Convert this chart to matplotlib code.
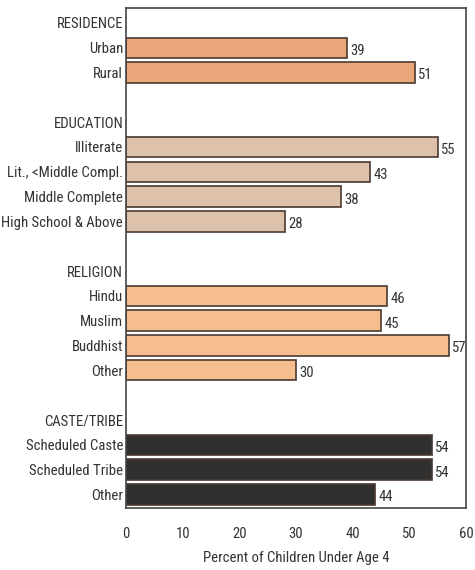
import matplotlib.pyplot as plt
import numpy as np

FONT = ['Roboto Condensed', 'DejaVu Sans']

groups = ['RESIDENCE', 'EDUCATION', 'RELIGION', 'CASTE/TRIBE']
residence = ['Urban', 'Rural']
residence_vals = [39, 51]
education = ['Illiterate', 'Lit., <Middle Compl.', 'Middle Complete', 'High School & Above']
education_vals = [55, 43, 38, 28]
religion = ['Hindu', 'Muslim', 'Buddhist', 'Other']
religion_vals = [46, 45, 57, 30]
caste = ['Scheduled Caste', 'Scheduled Tribe', 'Other']
caste_vals = [54, 54, 44]

COLORS = ['#E9A77A', '#DDC1AA', '#F6BE8E', '#303030']
FS = 10.6


def main():
    fig = plt.figure(figsize=(4.75, 5.70), dpi=100)
    ax = fig.add_axes([126 / 475, 62 / 570, 340 / 475, 500 / 570])

    cats = [residence, education, religion, caste]
    vals = [residence_vals, education_vals, religion_vals, caste_vals]

    labels = []
    pos = 0
    ticks = []
    for gi, (g, c, v) in enumerate(zip(groups, cats, vals)):
        if gi > 0:
            pos += 1  # blank row
        ticks.append(pos)
        labels.append(g)
        pos += 1
        ys = np.arange(pos, pos + len(c))
        ax.barh(ys, v, height=0.82, color=COLORS[gi], edgecolor='#4a3a30', linewidth=1.2)
        for y, val in zip(ys, v):
            ax.text(val + 0.6, y + 0.12, str(val), va='center', ha='left',
                    fontsize=FS, family=FONT, color='#333333')
        ticks.extend(ys)
        labels.extend(c)
        pos += len(c)

    ax.set_yticks(ticks)
    ax.set_yticklabels(labels, family=FONT, fontsize=FS, color='#333333')
    ax.set_ylim(pos - 0.45, -0.6)
    ax.set_xlim(0, 60)
    ax.set_xticks(range(0, 61, 10))
    ax.set_xticklabels([str(t) for t in range(0, 61, 10)], family=FONT, fontsize=FS, color='#333333')
    ax.tick_params(length=0, pad=2)
    ax.tick_params(axis='x', pad=14)
    for s in ax.spines.values():
        s.set_color('#444444')
        s.set_linewidth(1.2)
    ax.set_xlabel('Percent of Children Under Age 4', family=FONT, fontsize=FS,
                  color='#333333', labelpad=7)

    fig.savefig('out.png', dpi=100)


if __name__ == '__main__':
    main()
